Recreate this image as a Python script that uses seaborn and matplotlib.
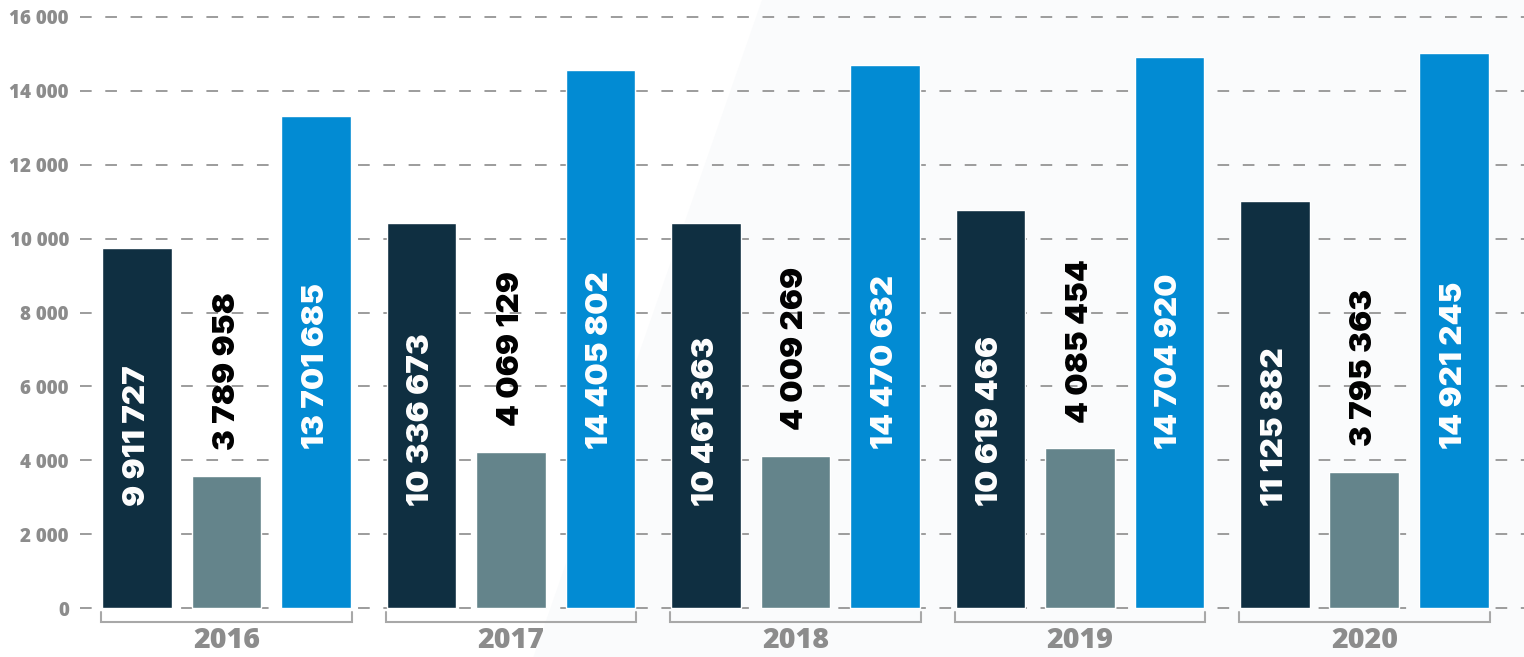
import matplotlib
matplotlib.use("Agg")
import matplotlib.pyplot as plt
from matplotlib import font_manager
from matplotlib.patches import Polygon
import numpy as np
import pandas as pd
import seaborn as sns

YEARS = ["2016", "2017", "2018", "2019", "2020"]
SERIES = ["dark", "gray", "blue"]

# bar heights as drawn against the y axis
DARK_HEIGHT = [9740, 10420, 10420, 10770, 11030]
GRAY_HEIGHT = [3570, 4220, 4110, 4320, 3690]
BLUE_HEIGHT = [13320, 14560, 14700, 14930, 15030]

# numbers printed on the bars
DARK_LABEL = [9911727, 10336673, 10461363, 10619466, 11125882]
GRAY_LABEL = [3789958, 4069129, 4009269, 4085454, 3795363]
BLUE_LABEL = [13701685, 14405802, 14470632, 14704920, 14921245]

Y_TICKS = [0, 2000, 4000, 6000, 8000, 10000, 12000, 14000, 16000]

COLORS = {"dark": "#0f2f41", "gray": "#64848b", "blue": "#028bd3"}
TEXT_GRAY = "#8c8c8c"


def font_file(name, weight):
    for f in font_manager.fontManager.ttflist:
        if f.name == name and f.weight == weight and f.style == "normal":
            return f.fname
    return None


def font_props(name, weight, size):
    path = font_file(name, weight)
    if path:
        return font_manager.FontProperties(fname=path, size=size)
    return font_manager.FontProperties(family="DejaVu Sans", weight="bold", size=size)


def fmt(v):
    return f"{v:,}".replace(",", " ")


def main():
    df = pd.DataFrame({
        "year": YEARS * 3,
        "series": [s for s in SERIES for _ in YEARS],
        "value": DARK_HEIGHT + GRAY_HEIGHT + BLUE_HEIGHT,
        "label": DARK_LABEL + GRAY_LABEL + BLUE_LABEL,
    })

    value_fp = font_props("Inter", 900, 22.5)
    tick_fp = font_props("Open Sans", 800, 13.5)
    year_fp = font_props("Open Sans", 800, 20.5)

    sns.set_theme(style="white")
    fig = plt.figure(figsize=(15.24, 6.57), dpi=100, facecolor="white")

    # faint background decoration on the right half
    fig.patches.append(Polygon([[0.35, 0.0], [0.50, 1.0], [1.0, 1.0], [1.0, 0.0]],
                               closed=True, transform=fig.transFigure,
                               facecolor="#fafbfc", edgecolor="none", zorder=-10))

    # y: 16 100 -> px 13.3, -100 -> px 611.7 ; x from px 80 to 1524
    ax = fig.add_axes([80 / 1524, (657 - 611.7) / 657, 1444 / 1524, (611.7 - 13.3) / 657])
    ax.set_facecolor("none")

    sns.barplot(data=df, x="year", y="value", hue="series", order=YEARS, hue_order=SERIES,
                palette=COLORS, width=0.944, gap=0.22, saturation=1, legend=False, ax=ax,
                zorder=2)

    ax.set_xlim(-0.515, 4.561)
    ax.set_ylim(-100, 16100)
    ax.set_yticks(Y_TICKS)
    ax.set_yticklabels([fmt(t) for t in Y_TICKS], color=TEXT_GRAY, fontproperties=tick_fp)
    ax.tick_params(axis="y", length=0, pad=8)
    ax.set_xticks([])
    ax.set_xlabel("")
    ax.set_ylabel("")
    for sp in ax.spines.values():
        sp.set_visible(False)
    ax.yaxis.grid(True, color="#9c9c9c", linewidth=1.4, linestyle=(0, (6.0, 7.0)), zorder=0)
    ax.set_axisbelow(True)

    # value labels, rotated
    for patch, lab, s in zip(ax.patches, df["label"], df["series"]):
        cx = patch.get_x() + patch.get_width() / 2
        top = patch.get_height()
        if s == "dark":
            y, color = 2750, "white"
        elif s == "gray":
            y, color = top + 700, "black"
        else:
            y, color = 4300, "white"
        ax.text(cx, y, fmt(lab), rotation=90, ha="center", va="bottom", color=color,
                fontproperties=value_fp, zorder=3)

    # brackets and year labels under each group
    for i, year in enumerate(YEARS):
        x0, x1 = i - 0.44, i + 0.44
        ax.plot([x0, x0, x1, x1], [-110, -380, -380, -110], color="#a8a8a8", lw=1.5,
                clip_on=False, solid_joinstyle="miter")
        ax.text(i, -870, year, ha="center", va="center", color=TEXT_GRAY,
                fontproperties=year_fp, clip_on=False)

    fig.savefig("out.png", dpi=100, facecolor="white")
    plt.close(fig)


if __name__ == "__main__":
    main()
